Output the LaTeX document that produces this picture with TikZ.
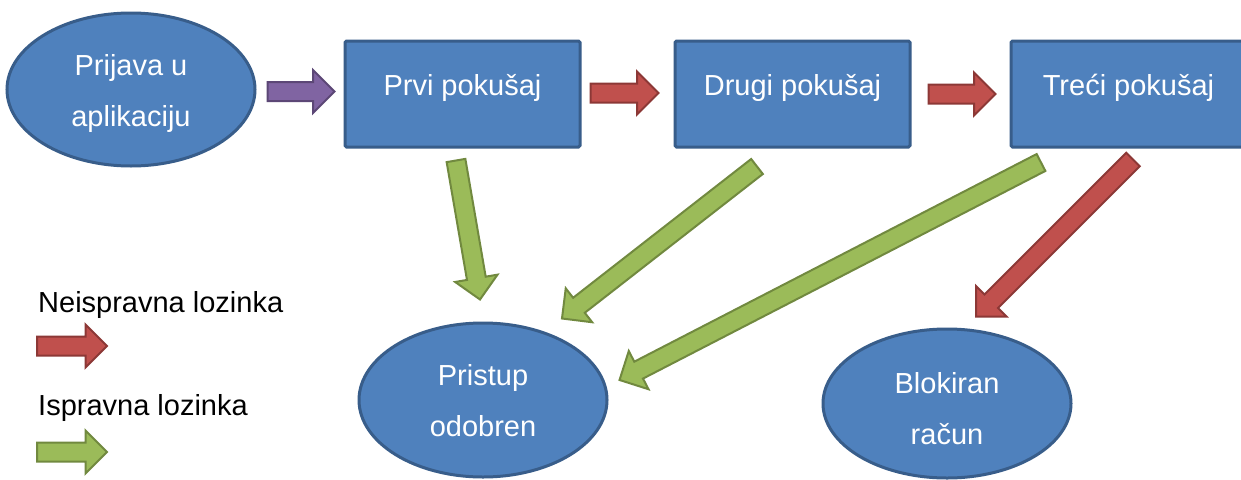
\documentclass[tikz,border=0pt]{standalone}
\usepackage{fontspec}
\setmainfont{Liberation Sans}
\usetikzlibrary{shapes.geometric,shapes.arrows,calc}
\definecolor{bfill}{HTML}{4F81BD}
\definecolor{bdraw}{HTML}{385D8A}
\definecolor{rfill}{HTML}{C0504D}
\definecolor{rdraw}{HTML}{8C3836}
\definecolor{gfill}{HTML}{9BBB59}
\definecolor{gdraw}{HTML}{71893F}
\definecolor{pfill}{HTML}{8064A2}
\definecolor{pdraw}{HTML}{5C4776}
\tikzset{
  txt/.style={font=\fontsize{29}{51}\selectfont},
  stepbox/.style={txt, rectangle, draw=bdraw, fill=bfill, line width=3pt, text=white,
    minimum width=235pt, minimum height=106pt, inner sep=0pt, rounded corners=1.5pt,
    text height=20pt, text depth=18pt},
  oval/.style={ellipse, draw=bdraw, fill=bfill, line width=3pt,
    minimum width=248pt, minimum height=153pt, inner sep=0pt},
  ovaltext/.style={txt, text=white, align=center, inner sep=0pt},
  blk/.style={single arrow, single arrow head extend=12pt, inner xsep=0pt, inner ysep=8.5pt,
    outer sep=0pt, line width=2pt, allow upside down, sloped},
  redarr/.style={blk, draw=rdraw, fill=rfill},
  greenarr/.style={blk, draw=gdraw, fill=gfill},
  purparr/.style={blk, draw=pdraw, fill=pfill},
  legend/.style={txt, inner sep=0pt, anchor=base west, text=black}
}
\newcommand\blockarrow[3]{%
  \path let \p1=($(#3)-(#2)$), \n1={veclen(\x1,\y1)} in
    (#2) -- (#3) node[pos=0, anchor=tail, #1, minimum height=\n1] {};
}
\begin{document}
\begin{tikzpicture}[x=1pt,y=-1pt]
\useasboundingbox[fill=white] (0,0) rectangle (1241,479);
% nodes
\node[oval, label={[ovaltext, yshift=-4pt]center:{Prijava u\\aplikaciju}}] (login) at (131,89.5) {};
\node[stepbox] (p1) at (462.5,94) {Prvi pokušaj};
\node[stepbox] (p2) at (792.5,94) {Drugi pokušaj};
\node[stepbox] (p3) at (1128.5,94) {Treći pokušaj};
\node[oval, minimum height=154pt, label={[ovaltext, yshift=-0.5pt]center:{Pristup\\odobren}}] (ok) at (483,400) {};
\node[oval, minimum height=149pt, label={[ovaltext, yshift=-5pt]center:{Blokiran\\račun}}] (blk) at (947,403.5) {};
\node[legend] (lbad) at (38,312) {Neispravna lozinka};
\node[legend] (lgood) at (38,415) {Ispravna lozinka};
% arrow end points
\coordinate (a1s) at ($(login.east)+(11,2)$);
\coordinate (a1e) at ($(p1.west)+(-9,-2.5)$);
\coordinate (a2s) at ($(p1.east)+(9,-1)$);
\coordinate (a2e) at ($(p2.west)+(-15,-1)$);
\coordinate (a3s) at ($(p2.east)+(17,0)$);
\coordinate (a3e) at ($(p3.west)+(-14,0)$);
\coordinate (g1s) at ($(p1.south)+(-6.5,12)$);
\coordinate (g1e) at ($(ok.north)+(-3,-22)$);
\coordinate (g2s) at ($(p2.south)+(-35.5,18)$);
\coordinate (g2e) at ($(ok.north)+(79,-3)$);
\coordinate (g3s) at ($(p3.south)+(-87.5,14)$);
\coordinate (g3e) at ($(ok.east)+(11,-20)$);
\coordinate (r4s) at ($(p3.south)+(4.5,11)$);
\coordinate (r4e) at ($(blk.north)+(29,-11)$);
\coordinate (lrs) at ($(lbad.base west)+(-1,34)$);
\coordinate (lre) at ($(lrs)+(70,0)$);
\coordinate (lgs) at ($(lgood.base west)+(-1,37)$);
\coordinate (lge) at ($(lgs)+(70,0)$);
% arrows
\blockarrow{purparr}{a1s}{a1e}
\blockarrow{redarr}{a2s}{a2e}
\blockarrow{redarr}{a3s}{a3e}
\blockarrow{greenarr}{g1s}{g1e}
\blockarrow{greenarr}{g2s}{g2e}
\blockarrow{greenarr}{g3s}{g3e}
\blockarrow{redarr}{r4s}{r4e}
\blockarrow{redarr}{lrs}{lre}
\blockarrow{greenarr}{lgs}{lge}
\end{tikzpicture}
\end{document}
